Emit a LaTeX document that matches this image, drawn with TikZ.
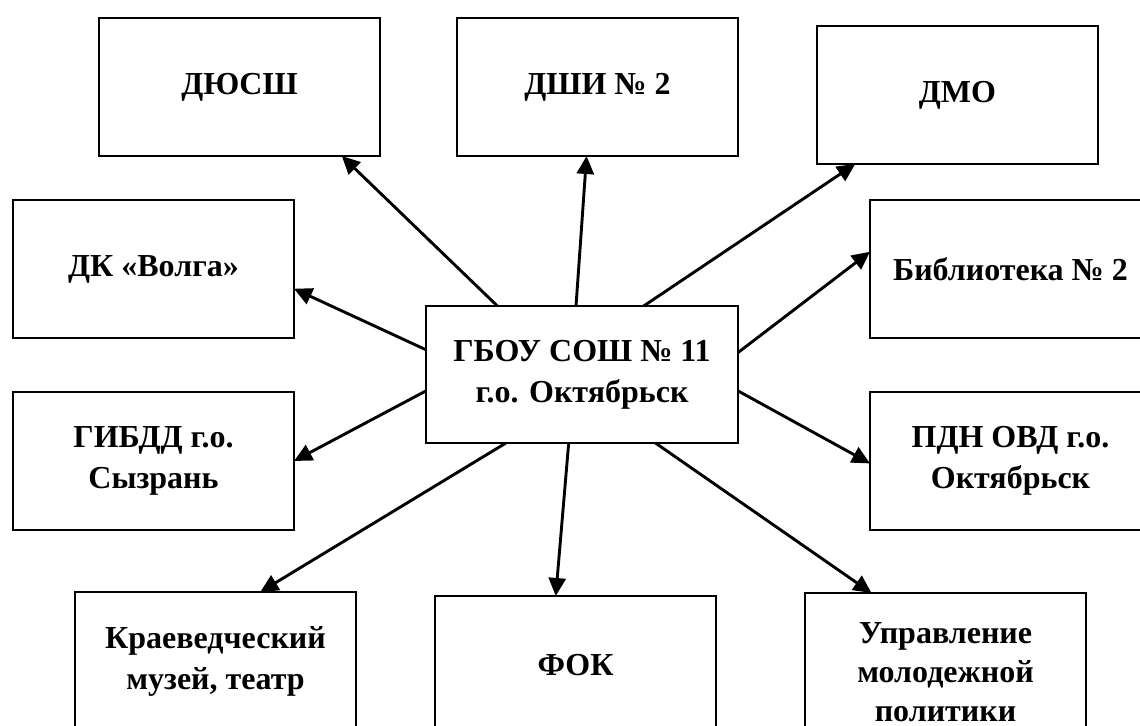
\documentclass[tikz,border=0pt]{standalone}
\usepackage{fontspec}
\setmainfont{Liberation Serif}
\usetikzlibrary{arrows.meta}
\begin{document}
\begin{tikzpicture}[x=0.5pt,y=-0.5pt,
  partner/.style={draw,line width=1.15pt,minimum width=140.5pt,minimum height=69pt,
    inner sep=2pt,outer sep=0pt,align=center,font=\bfseries\fontsize{16}{20.5}\selectfont},
  label text/.style={align=center,font=\bfseries\fontsize{16}{19.5}\selectfont},
  link/.style={line width=1.45pt,-{Triangle[length=9pt,width=8.5pt]}}]
\useasboundingbox (0,0) rectangle (1140,726);
% school in the middle
\node[partner,minimum width=156pt,minimum height=68.5pt] (gbou) at (582,374.5) {ГБОУ СОШ № 11\\г.о. Октябрьск};
% partners
\node[partner] (dyussh) at (239.5,87) {ДЮСШ};
\node[partner] (dshi) at (597.5,87) {ДШИ № 2};
\node[partner] (dmo) at (957.5,95) {ДМО};
\node[partner] (dkvolga) at (153.5,269) {ДК «Волга»};
\node[partner] (biblio) at (1010.5,269) {Библиотека № 2};
\node[partner] (gibdd) at (153.5,461) {ГИБДД г.о.\\Сызрань};
\node[partner] (pdn) at (1010.5,461) {ПДН ОВД г.о.\\Октябрьск};
\node[partner] (muzei) at (215.5,661) {Краеведческий\\музей, театр};
\node[partner] (fok) at (575.5,665) {ФОК};
\node[partner] (upravl) at (945.5,662) {};
\node[label text] (upravltxt) at ([yshift=-5pt]upravl.center) {Управление\\молодежной\\политики};
% arrows
\draw[link] (gbou.141.1) -- (dyussh.-34.5);
\draw[link] (gbou.95.8) -- (dshi.-99.5);
\draw[link] (gbou.48.3) -- (dmo.-146.3);
\draw[link] (gbou.8.9) -- (biblio.173.9);
\draw[link] (gbou.-6) -- (pdn.181.6);
\draw[link] (gbou.-43.6) -- (upravl.137.6);
\draw[link] (gbou.-101.6) -- (fok.106.5);
\draw[link] (gbou.222.8) -- (muzei.57.2);
\draw[link] (gbou.186.7) -- (gibdd.-0.8);
\draw[link] (gbou.171.8) -- (dkvolga.-8.9);
\end{tikzpicture}
\end{document}
